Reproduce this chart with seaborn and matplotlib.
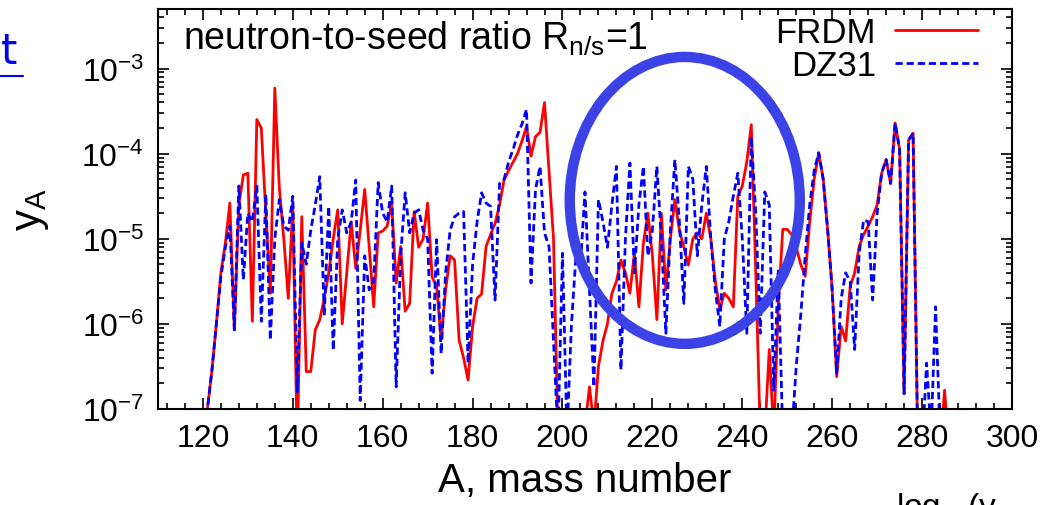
import numpy as np
import pandas as pd
import matplotlib
matplotlib.use("Agg")
import matplotlib.pyplot as plt
from matplotlib.patches import Ellipse
from matplotlib.lines import Line2D
from matplotlib.ticker import MultipleLocator, LogLocator, NullFormatter
import seaborn as sns

# mass number A, one point per nucleus
mass_A = list(range(120, 287))

# log10(y_A), FRDM mass model (values < -7 run off the bottom)
frdm_log = [
    -7.6, -7.0, -6.55, -6.0, -5.4, -5.05, -4.58, -6.07, -4.6, -4.25,      # 120-129
    -4.23, -5.97, -3.60, -3.70, -4.70, -5.64, -3.23, -4.4, -5.0, -5.7,    # 130-139
    -4.6, -7.5, -4.74, -6.56, -6.56, -6.07, -5.95, -5.7, -5.4, -5.0,      # 140-149
    -4.66, -6.0, -5.4, -4.8, -5.35, -4.9, -4.42, -5.1, -5.8, -4.93,       # 150-159
    -4.91, -4.85, -4.58, -5.52, -5.09, -5.85, -5.76, -4.68, -5.1, -5.0,   # 160-169
    -4.58, -5.45, -5.56, -6.19, -5.6, -5.2, -5.25, -6.19, -6.4, -6.66,    # 170-179
    -6.03, -5.7, -5.65, -5.09, -4.95, -4.82, -4.6, -4.31, -4.2, -4.1,     # 180-189
    -4.0, -3.85, -3.68, -4.03, -3.80, -3.75, -3.40, -4.2, -5.0, -7.3,     # 190-199
    -7.5, -7.5, -7.5, -7.5, -7.3, -7.2, -6.74, -7.2, -6.5, -6.2,          # 200-209
    -6.0, -5.64, -5.5, -5.25, -5.4, -5.64, -5.17, -5.8, -5.05, -4.70,     # 210-219
    -5.2, -5.95, -4.70, -5.6, -5.0, -4.54, -4.9, -5.1, -5.31, -5.0,       # 220-229
    -4.93, -5.0, -4.70, -5.0, -5.5, -5.83, -5.64, -5.7, -5.8, -4.5,       # 230-239
    -4.38, -4.1, -3.66, -5.4, -7.3, -7.3, -6.3, -7.3, -5.8, -4.89,        # 240-249
    -4.89, -4.95, -5.1, -5.3, -5.44, -4.8, -4.3, -3.99, -4.3, -4.9,       # 250-259
    -5.6, -6.62, -6.03, -6.2, -5.56, -5.4, -5.09, -4.95, -4.85, -4.74,    # 260-269
    -4.6, -4.23, -4.07, -4.35, -3.64, -3.95, -6.82, -3.84, -3.76, -7.3,   # 270-279
    -7.5, -7.5, -7.5, -7.5, -7.5, -6.78, -7.5,                            # 280-286
]

# log10(y_A) for the DZ31 mass model
dz31_log = [
    -7.6, -7.0, -6.55, -6.0, -5.45, -5.1, -4.85, -6.07, -4.38, -5.48,     # 120-129
    -4.7, -4.8, -4.38, -5.97, -4.48, -6.19, -5.0, -4.54, -4.85, -4.9,     # 130-139
    -4.50, -6.8, -5.05, -5.3, -4.9, -4.6, -4.27, -5.9, -4.62, -6.31,      # 140-149
    -5.0, -4.66, -4.93, -4.8, -4.31, -6.9, -5.2, -5.6, -5.5, -4.34,       # 150-159
    -4.7, -4.8, -4.38, -6.74, -5.2, -4.46, -4.93, -4.7, -4.66, -4.9,      # 160-169
    -5.0, -6.58, -5.01, -6.35, -5.4, -4.9, -4.74, -4.7, -4.68, -6.46,     # 170-179
    -5.3, -4.8, -4.46, -4.58, -4.62, -5.72, -4.35, -4.3, -4.1, -3.95,     # 180-189
    -3.78, -3.65, -3.48, -5.52, -4.42, -4.15, -4.93, -5.09, -6.19, -7.3,  # 190-199
    -5.17, -7.3, -6.0, -5.2, -5.3, -4.45, -5.6, -6.74, -4.54, -4.8,       # 200-209
    -5.1, -4.6, -4.15, -6.54, -5.0, -4.11, -5.4, -4.6, -4.15, -5.2,       # 210-219
    -4.9, -4.15, -5.0, -6.11, -4.9, -4.07, -4.8, -5.76, -4.15, -4.3,      # 220-229
    -5.2, -4.6, -4.15, -5.0, -5.6, -6.03, -5.0, -4.8, -4.5, -4.23,        # 230-239
    -5.0, -6.11, -3.80, -4.7, -6.11, -4.45, -4.6, -6.78, -5.36, -7.3,     # 240-249
    -7.3, -7.3, -6.5, -5.9, -5.2, -4.6, -4.2, -3.99, -4.3, -4.9,          # 250-259
    -5.6, -6.58, -5.7, -5.4, -5.5, -6.3, -5.17, -4.78, -4.8, -5.72,       # 260-269
    -4.7, -4.23, -4.07, -4.35, -3.64, -3.95, -6.82, -3.84, -3.76, -7.3,   # 270-279
    -7.5, -6.46, -7.3, -5.80, -7.3, -7.5, -7.5,                           # 280-286
]

models = ["FRDM", "DZ31"]
model_colors = {"FRDM": "#ff0000", "DZ31": "#0000ff"}

df = pd.DataFrame({
    "A": mass_A * 2,
    "yA": 10 ** np.array(frdm_log + dz31_log),
    "model": ["FRDM"] * len(mass_A) + ["DZ31"] * len(mass_A),
})

sns.set_style("ticks")
plt.rcParams["font.family"] = ["Liberation Sans", "DejaVu Sans"]
plt.rcParams["mathtext.fontset"] = "custom"
plt.rcParams["mathtext.rm"] = "Liberation Sans"
plt.rcParams["mathtext.it"] = "Liberation Sans"
plt.rcParams["axes.unicode_minus"] = False
plt.rcParams["text.color"] = "black"
plt.rcParams["axes.labelcolor"] = "black"
plt.rcParams["xtick.color"] = "black"
plt.rcParams["ytick.color"] = "black"

fig = plt.figure(figsize=(10.6, 5.06), dpi=100)
ax = fig.add_axes([0.149, 0.1897, 0.8057, 0.7905])

sns.lineplot(data=df, x="A", y="yA", hue="model", style="model",
             hue_order=models, style_order=models, palette=model_colors,
             dashes={"FRDM": "", "DZ31": (2.6, 1.4)}, linewidth=2.0,
             sort=False, estimator=None, ax=ax, legend=False)

ax.set_yscale("log")
ax.set_xlim(110, 300)
ax.set_ylim(1e-7, 5e-3)

ax.xaxis.set_minor_locator(MultipleLocator(4))
ax.yaxis.set_major_locator(LogLocator(base=10, numticks=10))
ax.yaxis.set_minor_locator(LogLocator(base=10, subs=np.arange(2, 10), numticks=10))
ax.yaxis.set_minor_formatter(NullFormatter())
ax.set_xticks(range(120, 301, 20))

ax.tick_params(which="both", direction="in", top=True, right=True, width=1.2)
ax.tick_params(which="major", length=8, labelsize=23, pad=10)
ax.tick_params(which="minor", length=4)
for s in ax.spines.values():
    s.set_linewidth(1.5)
    s.set_color("black")

ax.set_xlabel("A, mass number", fontsize=29, labelpad=6)
ax.set_ylabel(r"y$_\mathregular{A}$", fontsize=30, labelpad=22)

ax.text(0.029, 0.975, r"neutron-to-seed ratio R$_\mathregular{n/s}$=1", transform=ax.transAxes,
        fontsize=27, va="top", ha="left")

handles = [Line2D([], [], color=model_colors["FRDM"], lw=2.0),
           Line2D([], [], color=model_colors["DZ31"], lw=2.0, ls=(0, (2.6, 1.4)))]
ax.legend(handles, models, loc="upper right", markerfirst=False, frameon=False,
          fontsize=25, handlelength=2.4, handletextpad=0.55, labelspacing=0.0,
          borderaxespad=0.2, bbox_to_anchor=(0.985, 1.035))

# the hand-drawn highlight round the 205-250 region
fig.add_artist(Ellipse((0.646, 0.602), 0.217, 0.567, transform=fig.transFigure,
                       fill=False, edgecolor="#3c43e6", linewidth=7.5))

# cropped slide text around the picture
fig.text(0.001, 0.855, "t", color="#0000ee", fontsize=30, ha="left", va="bottom",
         family="DejaVu Sans")
fig.add_artist(Line2D([0.0, 0.022], [0.848, 0.848], color="#0000ee", lw=1.5,
                      transform=fig.transFigure))
fig.text(0.845, 0.03, r"log$_{10}$(y", fontsize=24, ha="left", va="top")

fig.savefig("out.png", dpi=100)
